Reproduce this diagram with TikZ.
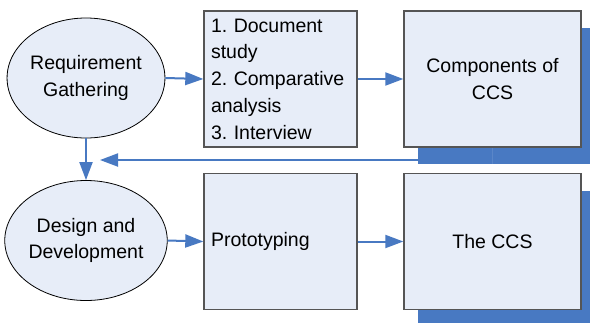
\documentclass[tikz,border=0pt]{standalone}
\usepackage{fontspec}
\setmainfont{Liberation Sans}
\usetikzlibrary{shapes.geometric,arrows.meta,calc}
\definecolor{boxfill}{RGB}{231,237,248}
\definecolor{shadowc}{RGB}{72,121,194}
\definecolor{arrowc}{RGB}{72,121,194}
\definecolor{borderc}{RGB}{85,85,85}
\frenchspacing
\begin{document}
\begin{tikzpicture}[x=1bp,y=-1bp,
  every node/.style={font=\fontsize{19.5bp}{26.7bp}\selectfont},
  oval/.style={ellipse,draw=black,line width=0.8bp,fill=boxfill,minimum width=156bp,minimum height=120bp,inner sep=0pt,align=center},
  boxl/.style={rectangle,draw=borderc,line width=1.4bp,fill=boxfill,minimum height=136bp,inner xsep=7bp,inner ysep=0pt,text width=139bp,align=left},
  boxw/.style={rectangle,draw=borderc,line width=1.4bp,fill=boxfill,minimum width=177bp,minimum height=136bp,inner sep=0pt,align=center},
  conn/.style={draw=arrowc,line width=2bp,-{Triangle[length=18bp,width=13bp]}}
]
\useasboundingbox (0,0) rectangle (590,322);
\clip (0,0) rectangle (590,322);
\fill[white] (0,0) rectangle (590,322);
% nodes
\node[oval] (e1) at (86,78) {Requirement\\Gathering};
\node[oval] (e2) at (86,240.5) {Design and\\Development};
\node[boxl] (b1) at (280.5,79) {1. Document\\study\\2. Comparative\\analysis\\3. Interview};
\node[boxl] (b3) at (280.5,241.5) {Prototyping};
% feedback connector (under shadow)
\coordinate (fb) at (100,160);
\draw[conn] (492.5,147) |- (fb);
% shadows
\fill[shadowc] (418,28) rectangle (600,164);
\fill[shadowc] (418,191) rectangle (600,330);
\draw[draw=arrowc!90!white,line width=1bp] (492.5,147) -- (492.5,164);
\node[boxw] (b2) at (492.5,79) {Components of\\CCS};
\node[boxw] (b4) at (492.5,241.5) {The CCS};
% connectors
\draw[conn] (e1.east) -- (b1.west);
\draw[conn] (b1.east) -- (b2.west);
\draw[conn] (e1.south) -- (e2.north);
\draw[conn] (e2.east) -- (b3.west);
\draw[conn] (b3.east) -- (b4.west);
\end{tikzpicture}
\end{document}
